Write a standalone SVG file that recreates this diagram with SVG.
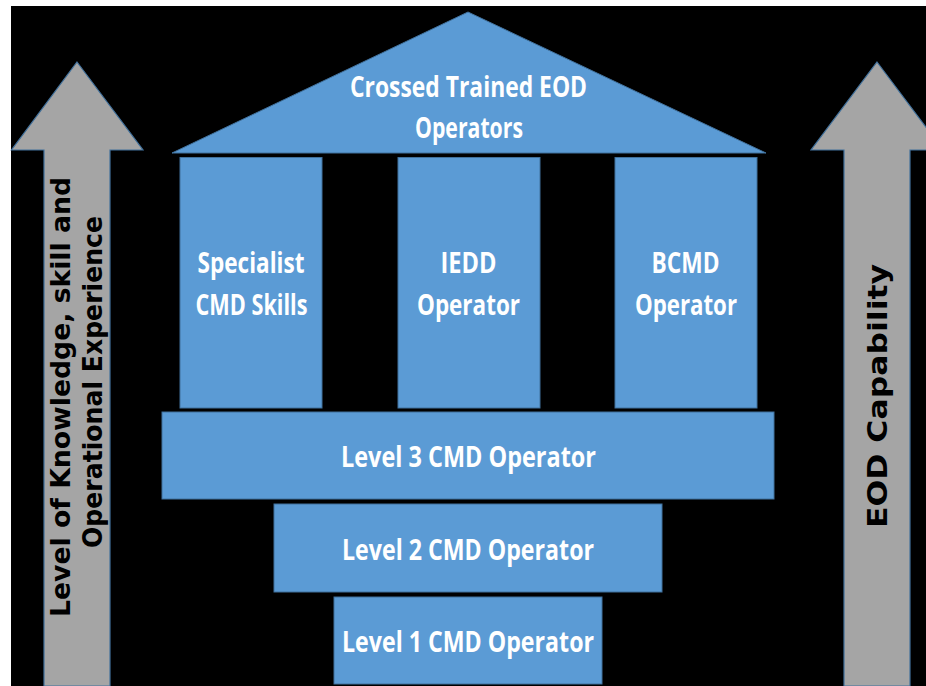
<svg xmlns="http://www.w3.org/2000/svg" width="926" height="686" viewBox="0 0 926 686">
  <style>
    .block { fill: #5B9BD5; stroke: #41719C; stroke-width: 1; }
    .scale { fill: #A5A5A5; stroke: #41719C; stroke-width: 1.2; }
    .lbl { fill: #FFFFFF; font-family: "Open Sans", "Liberation Sans", sans-serif; font-weight: 700; font-size: 29px; text-anchor: middle; }
    .side { fill: #000000; font-family: "DejaVu Sans", "Liberation Sans", sans-serif; font-weight: 700; font-size: 27px; }
  </style>

  <!-- page -->
  <rect x="0" y="0" width="926" height="686" fill="#FFFFFF"/>
  <rect x="11" y="6" width="915" height="680" fill="#000000"/>

  <!-- left scale arrow -->
  <g id="knowledge-arrow">
    <polygon class="scale" points="77,62 143,150 110,150 110,686 44,686 44,150 11.5,150"/>
    <text class="side" transform="translate(70,617) rotate(-90)" textLength="440" lengthAdjust="spacingAndGlyphs">Level of Knowledge, skill and</text>
    <text class="side" transform="translate(102,548) rotate(-90)" textLength="332" lengthAdjust="spacingAndGlyphs">Operational Experience</text>
  </g>

  <!-- right scale arrow -->
  <g id="capability-arrow">
    <polygon class="scale" points="877,62 943,150 910,150 910,686 844,686 844,150 811,150"/>
    <text class="side" transform="translate(887,528) rotate(-90)" textLength="264" lengthAdjust="spacingAndGlyphs">EOD Capability</text>
  </g>

  <!-- roof -->
  <g id="cross-trained">
    <polygon class="block" points="172,153 468,12 766,153"/>
    <text class="lbl" x="468.5" y="97" textLength="237" lengthAdjust="spacingAndGlyphs">Crossed Trained EOD</text>
    <text class="lbl" x="469" y="138" textLength="108" lengthAdjust="spacingAndGlyphs">Operators</text>
  </g>

  <!-- pillars -->
  <g id="specialist">
    <rect class="block" x="180" y="157.5" width="142" height="250.5"/>
    <text class="lbl" x="251" y="273" textLength="107" lengthAdjust="spacingAndGlyphs">Specialist</text>
    <text class="lbl" x="251.5" y="315" textLength="112" lengthAdjust="spacingAndGlyphs">CMD Skills</text>
  </g>

  <g id="iedd">
    <rect class="block" x="398" y="157.5" width="142" height="250.5"/>
    <text class="lbl" x="468.5" y="273" textLength="56" lengthAdjust="spacingAndGlyphs">IEDD</text>
    <text class="lbl" x="468.5" y="315" textLength="103" lengthAdjust="spacingAndGlyphs">Operator</text>
  </g>

  <g id="bcmd">
    <rect class="block" x="615" y="157.5" width="142" height="250.5"/>
    <text class="lbl" x="685.5" y="273" textLength="68" lengthAdjust="spacingAndGlyphs">BCMD</text>
    <text class="lbl" x="686" y="315" textLength="102" lengthAdjust="spacingAndGlyphs">Operator</text>
  </g>

  <!-- foundation levels -->
  <g id="level-3">
    <rect class="block" x="162" y="412" width="612" height="87"/>
    <text class="lbl" x="468.5" y="467" textLength="255" lengthAdjust="spacingAndGlyphs">Level 3 CMD Operator</text>
  </g>

  <g id="level-2">
    <rect class="block" x="274" y="504" width="388" height="88"/>
    <text class="lbl" x="468" y="560" textLength="252" lengthAdjust="spacingAndGlyphs">Level 2 CMD Operator</text>
  </g>

  <g id="level-1">
    <rect class="block" x="334" y="597" width="268" height="87"/>
    <text class="lbl" x="468" y="652" textLength="252" lengthAdjust="spacingAndGlyphs">Level 1 CMD Operator</text>
  </g>
</svg>
